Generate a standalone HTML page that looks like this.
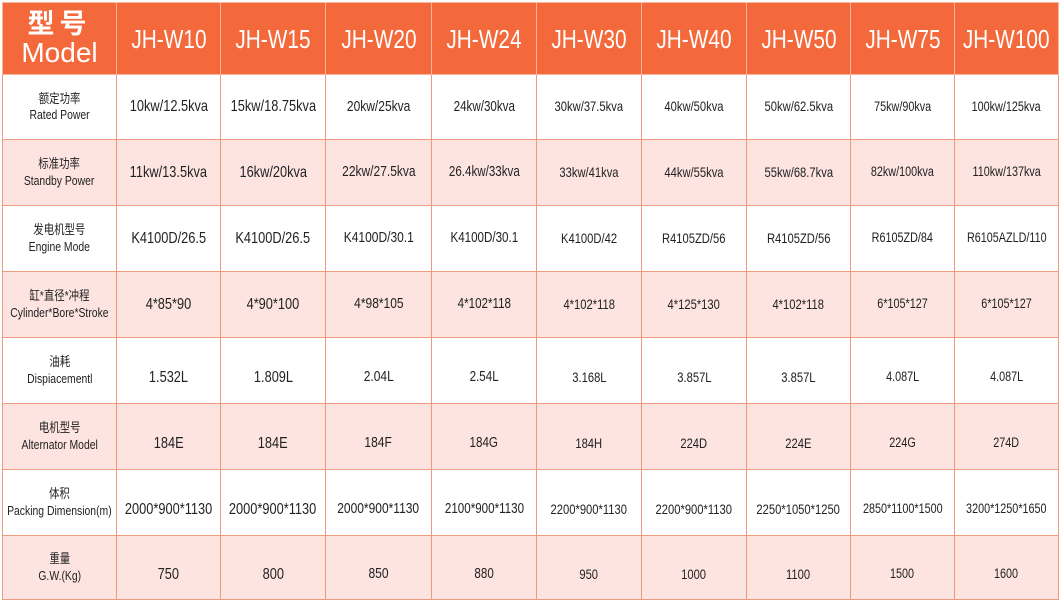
<!DOCTYPE html><html><head><meta charset="utf-8"><style>
body{margin:0;width:1063px;height:603px;background:#fff;overflow:hidden;font-family:"Liberation Sans","Noto Sans CJK SC",sans-serif}
.c{position:absolute;display:flex;align-items:center;justify-content:center;text-align:center;box-sizing:border-box;border-right:1px solid #ee9a7e;border-bottom:1px solid #ee9a7e;color:#222;line-height:1.25;white-space:nowrap}
.c span{display:inline-block;transform:scaleX(0.8)}
.h{background:#f4693b;color:#fff;font-size:26px;border-color:#f9b49a}
.lab{font-size:13px}
</style></head><body>
<div id="t"></div>
<script>
var xs=[2,117,221,326,432,537,642,747,851,955,1059];
var ys=[2,75,140,206,272,338,404,470,536,600];
var hdr=["JH-W10","JH-W15","JH-W20","JH-W24","JH-W30","JH-W40","JH-W50","JH-W75","JH-W100"];
var labs=[["额定功率","Rated Power"],["标准功率","Standby Power"],["发电机型号","Engine Mode"],["缸*直径*冲程","Cylinder*Bore*Stroke"],["油耗","Dispiacementl"],["电机型号","Alternator Model"],["体积","Packing Dimension(m)"],["重量","G.W.(Kg)"]];
var d=[
["10kw/12.5kva","15kw/18.75kva","20kw/25kva","24kw/30kva","30kw/37.5kva","40kw/50kva","50kw/62.5kva","75kw/90kva","100kw/125kva"],
["11kw/13.5kva","16kw/20kva","22kw/27.5kva","26.4kw/33kva","33kw/41kva","44kw/55kva","55kw/68.7kva","82kw/100kva","110kw/137kva"],
["K4100D/26.5","K4100D/26.5","K4100D/30.1","K4100D/30.1","K4100D/42","R4105ZD/56","R4105ZD/56","R6105ZD/84","R6105AZLD/110"],
["4*85*90","4*90*100","4*98*105","4*102*118","4*102*118","4*125*130","4*102*118","6*105*127","6*105*127"],
["1.532L","1.809L","2.04L","2.54L","3.168L","3.857L","3.857L","4.087L","4.087L"],
["184E","184E","184F","184G","184H","224D","224E","224G","274D"],
["2000*900*1130","2000*900*1130","2000*900*1130","2100*900*1130","2200*900*1130","2200*900*1130","2250*1050*1250","2850*1100*1500","3200*1250*1650"],
["750","800","850","880","950","1000","1100","1500","1600"]];
var sz=[16,16,15,14.5,14,14,14,13.5,13.5];
var h='';
function cell(x,y,w,hh,cls,st,txt){h+='<div class="c '+cls+'" style="left:'+x+'px;top:'+y+'px;width:'+w+'px;height:'+hh+'px;'+st+'">'+txt+'</div>';}
cell(2,2,115,73,'h','border-left:1px solid #f9b49a;border-top:1px solid #f9b49a;flex-direction:column;line-height:1.05','<div style="font-size:27px;font-weight:bold;letter-spacing:5px">型号</div><div style="font-size:28px">Model</div>');
for(var j=0;j<9;j++)cell(xs[j+1],2,xs[j+2]-xs[j+1],73,'h','border-top:1px solid #f9b49a;padding-top:2px','<span>'+hdr[j]+'</span>');
for(var i=0;i<8;i++){var bg=i%2?'#fde4e1':'#fff';
cell(2,ys[i+1],115,ys[i+2]-ys[i+1],'lab','background:'+bg+';border-left:1px solid #ee9a7e','<span>'+labs[i][0]+'<br>'+labs[i][1]+'</span>');
for(var j=0;j<9;j++)cell(xs[j+1],ys[i+1],xs[j+2]-xs[j+1],ys[i+2]-ys[i+1],'','background:'+bg+';font-size:'+sz[j]+'px;'+(i>=4?'padding-top:14px':''),'<span>'+d[i][j]+'</span>');}
document.getElementById('t').innerHTML=h;
</script></body></html>
